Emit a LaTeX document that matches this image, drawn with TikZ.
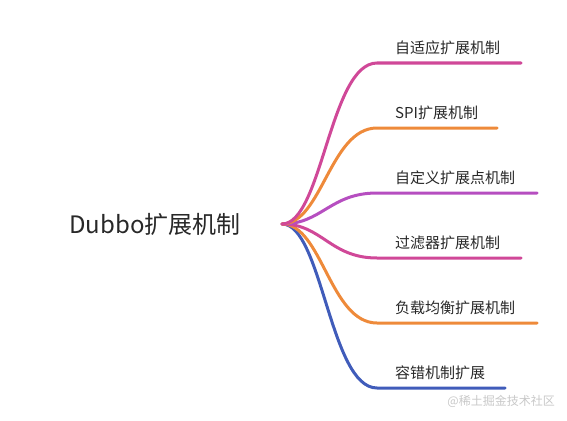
\documentclass[tikz,border=0pt]{standalone}
\usepackage{fontspec}
\setmainfont{Noto Sans CJK SC}
\definecolor{cMag}{RGB}{208,72,152}
\definecolor{cOra}{RGB}{238,138,58}
\definecolor{cPur}{RGB}{182,78,192}
\definecolor{cBlu}{RGB}{64,92,186}
\definecolor{cTxt}{RGB}{40,40,40}
\definecolor{cWm}{RGB}{200,200,200}
\begin{document}
\begin{tikzpicture}[x=1pt,y=-1pt,
  branch/.style={line width=3pt, line cap=round},
  leaf/.style={anchor=west, inner sep=0pt, text=cTxt, font=\fontsize{15}{15}\selectfont},
  rootlabel/.style={anchor=center, inner sep=0pt, text=cTxt, font=\fontsize{24}{24}\selectfont}]
\useasboundingbox (0,0) rectangle (567,420);
\node[rootlabel] (root) at (155,224) {Dubbo扩展机制};
\coordinate (hub) at (282,224);
% branch starts/ends
\foreach \n/\y/\e in {1/63/521, 2/128/497, 3/193/537, 4/258/521, 5/323/537, 6/388/505}{
  \coordinate (s\n) at (377,\y);
  \coordinate (e\n) at (\e,\y);
}
\node[leaf] (l1) at (395,48) {自适应扩展机制};
\node[leaf] (l2) at (395,113) {SPI扩展机制};
\node[leaf] (l3) at (395,178) {自定义扩展点机制};
\node[leaf] (l4) at (395,243) {过滤器扩展机制};
\node[leaf] (l5) at (395,308) {负载均衡扩展机制};
\node[leaf] (l6) at (395,373) {容错机制扩展};
\draw[branch, cBlu] (hub) .. controls (322,224) and (330,388) .. (s6) -- (e6);
\draw[branch, cOra] (hub) .. controls (322,224) and (330,323) .. (s5) -- (e5);
\draw[branch, cMag] (hub) .. controls (322,224) and (330,258) .. (s4) -- (e4);
\draw[branch, cPur] (hub) .. controls (322,224) and (330,193) .. (s3) -- (e3);
\draw[branch, cOra] (hub) .. controls (322,224) and (330,128) .. (s2) -- (e2);
\draw[branch, cMag] (hub) .. controls (322,224) and (330,63) .. (s1) -- (e1);
\node[anchor=east, inner sep=0pt, text=cWm, font=\fontsize{12}{12}\selectfont] (wm) at (555,401) {@稀土掘金技术社区};
\end{tikzpicture}
\end{document}
